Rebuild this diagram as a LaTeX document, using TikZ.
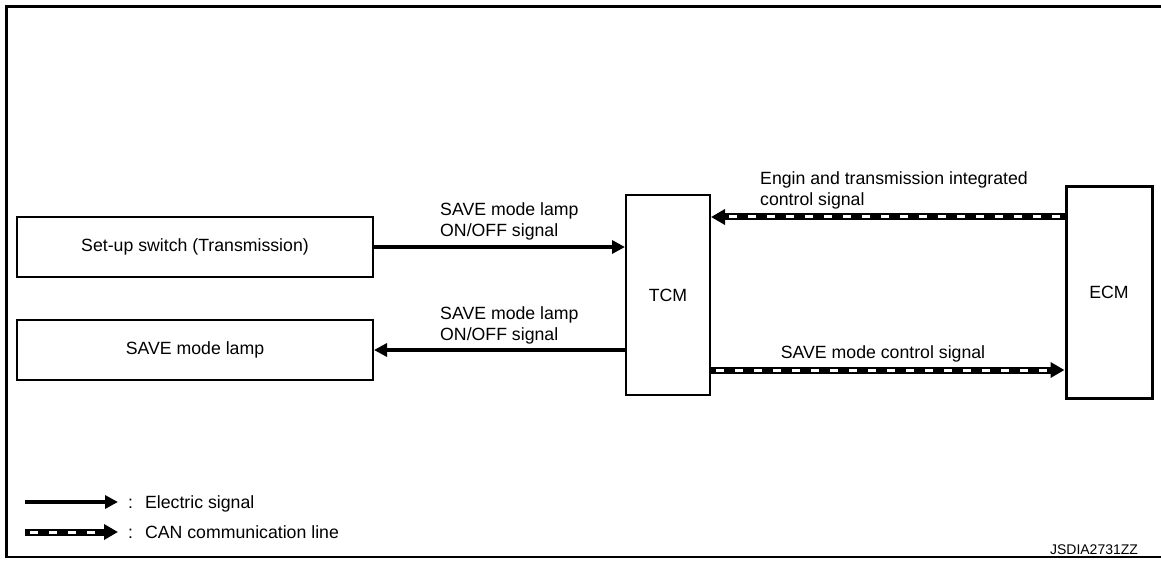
\documentclass[tikz,border=0pt]{standalone}
\usepackage{fontspec}
\setmainfont{Liberation Sans}
\usetikzlibrary{arrows.meta,positioning,calc}
\newcommand{\txtsize}{\fontsize{17.7}{21}\selectfont}
\tikzset{
  blk/.style={draw, line width=2pt, minimum height=60pt, inner sep=0pt, font=\txtsize},
  unitblk/.style={blk, minimum width=84pt, minimum height=200pt},
  elarr/.style={-{Triangle[length=13pt,width=13pt]}, line width=4.5pt},
  canarr/.style={-{Triangle[length=14pt,width=15pt]}, line width=7pt,
    postaction={draw=white, -, line width=3pt, dash pattern=on 8pt off 11pt,
                dash phase=14pt, shorten >=15pt}},
  lbl/.style={inner sep=0pt, align=left, font=\txtsize},
  frm/.style={line width=3pt}
}

\begin{document}
\begin{tikzpicture}[x=1pt, y=-1pt]
\useasboundingbox (0,0) rectangle (1161,561);
% frame
\draw[frm] (1161,6.5) -- (6,6.5) -- (6,557);
\draw[line width=2pt] (5,557) -- (1161,557);
% switch and lamp (left)
\node[blk, minimum width=356pt] (setup) at (195,247) {Set-up switch (Transmission)};
\node[blk, minimum width=356pt, below=41pt of setup] (lamp) {SAVE mode lamp};
% control units
\node[unitblk] (tcm) at (668,295) {TCM};
\node[unitblk, line width=3pt, minimum width=86pt, minimum height=211pt] (ecm) at (1109,292.5) {ECM};
% electric signals
\draw[elarr] (setup.east) -- (setup.east -| tcm.west);
\node[lbl, anchor=north west] (onoffin) at (440,202) {SAVE mode lamp\\ON/OFF signal};
\draw[elarr] (lamp.east -| tcm.west) -- (lamp.east);
\node[lbl, anchor=north west] (onoffout) at (440,306) {SAVE mode lamp\\ON/OFF signal};
% CAN lines
\draw[canarr] (ecm.west |- 0,217) -- (tcm.east |- 0,217);
\node[lbl, anchor=north west] (integ) at (760,171) {Engin and transmission integrated\\control signal};
\draw[canarr] (tcm.east |- 0,370) -- (ecm.west |- 0,370);
\node[lbl, anchor=base] (savectl) at (883,358) {SAVE mode control signal};
% legend
\coordinate (elA) at (25,502);
\coordinate (elB) at (118,502);
\draw[elarr] (elA) -- (elB);
\node[lbl, anchor=base west] (elkey) at (128,508) {:\hspace{12pt}Electric signal};
\coordinate (canA) at (25,532);
\coordinate (canB) at (118,532);
\draw[canarr, postaction={dash phase=0pt, dash pattern=on 9pt off 7pt}] (canA) -- (canB);
\node[lbl, anchor=base west] (cankey) at (128,538) {:\hspace{12pt}CAN communication line};
\node[anchor=base, inner sep=0pt, font=\fontsize{14}{16}\selectfont] (code) at (1094,554) {JSDIA2731ZZ};
\end{tikzpicture}
\end{document}
